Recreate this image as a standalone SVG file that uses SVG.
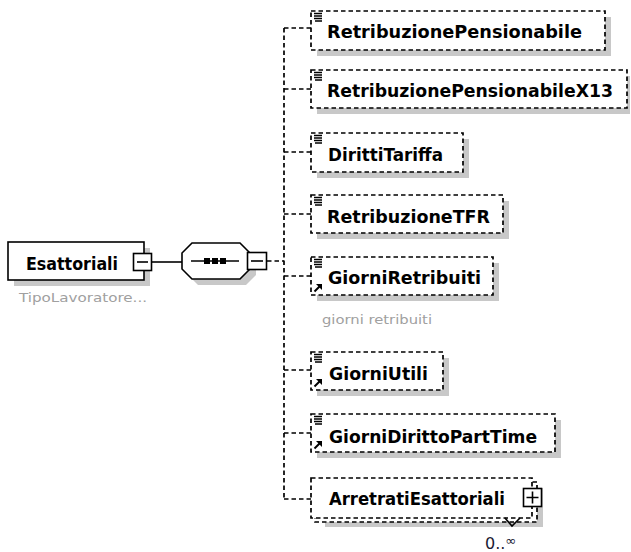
<svg xmlns="http://www.w3.org/2000/svg" width="631" height="552" viewBox="0 0 631 552">
<style>
.shadow{fill:#c8c8c8;stroke:none}
.solid{fill:#fff;stroke:#000;stroke-width:1.6}
.dbox{fill:#fff;stroke:#000;stroke-width:1.7;stroke-dasharray:4.5 3}
.conn{fill:none;stroke:#000;stroke-width:1.7;stroke-dasharray:4.5 3}
.line{fill:none;stroke:#000;stroke-width:1.6}
.lbl{font-family:"DejaVu Sans",Verdana,sans-serif;font-weight:bold;font-size:18px;fill:#000}
.note{font-family:"DejaVu Sans",Verdana,sans-serif;font-size:13px;fill:#a0a0a0}
.occ{font-family:"DejaVu Sans",Verdana,sans-serif;font-size:16px;fill:#1a1a33}
.ico{stroke:#000;stroke-width:1.3;fill:none}
</style>
<defs>
<g id="simple">
<path class="ico" d="M0,0.5h8M0,3h8M0,5.5h8M1,8h7"/>
</g>
<g id="ref">
<path d="M0.5,8.5L5.5,3.5" stroke="#000" stroke-width="2"/>
<path d="M2,1H8V7Z" fill="#000"/>
</g>
</defs>

<g id="connectors">
<path class="line" d="M152,262H182"/>
<path class="conn" d="M267,261H284"/>
<path class="conn" d="M284,28V499"/>
<path class="conn" d="M284,28H311M284,89H311M284,152H311M284,214H311M284,276H311M284,370H311M284,433H311M284,499H311"/>
</g>

<g id="Esattoriali">
<rect class="shadow" x="14" y="248" width="136" height="38"/>
<rect class="solid" x="8" y="242" width="136" height="38"/>
<text class="lbl" x="26" y="270" textLength="92" lengthAdjust="spacingAndGlyphs">Esattoriali</text>
<rect class="solid" x="133.5" y="253.5" width="18" height="17"/>
<path class="line" d="M137,262H148"/>
<text class="note" x="19" y="302" textLength="128" lengthAdjust="spacingAndGlyphs">TipoLavoratore...</text>
</g>

<g id="sequence">
<path class="shadow" d="M198,249H246L256,259V275L246,285H198L188,275V259Z"/>
<path class="solid" d="M192,243H240L250,253V269L240,279H192L182,269V253Z"/>
<path class="line" d="M191,261H239"/>
<rect x="204" y="258" width="6" height="6" fill="#000"/>
<rect x="212" y="258" width="6" height="6" fill="#000"/>
<rect x="220" y="258" width="6" height="6" fill="#000"/>
<rect class="solid" x="247.5" y="252.5" width="19" height="17"/>
<path class="line" d="M251,261H263"/>
</g>

<g id="RetribuzionePensionabile">
<rect class="shadow" x="317" y="17" width="294" height="39"/>
<rect class="dbox" x="311" y="11" width="294" height="39"/>
<use href="#simple" x="314" y="13"/>
<text class="lbl" x="327" y="38" textLength="255" lengthAdjust="spacingAndGlyphs">RetribuzionePensionabile</text>
</g>

<g id="RetribuzionePensionabileX13">
<rect class="shadow" x="317" y="76" width="313" height="38"/>
<rect class="dbox" x="311" y="70" width="316" height="38"/>
<use href="#simple" x="314" y="72"/>
<text class="lbl" x="327" y="97" textLength="286" lengthAdjust="spacingAndGlyphs">RetribuzionePensionabileX13</text>
</g>

<g id="DirittiTariffa">
<rect class="shadow" x="317" y="139" width="152" height="39"/>
<rect class="dbox" x="311" y="133" width="152" height="39"/>
<use href="#simple" x="314" y="135"/>
<text class="lbl" x="328" y="161" textLength="115" lengthAdjust="spacingAndGlyphs">DirittiTariffa</text>
</g>

<g id="RetribuzioneTFR">
<rect class="shadow" x="317" y="201" width="192" height="38"/>
<rect class="dbox" x="311" y="195" width="192" height="38"/>
<use href="#simple" x="314" y="197"/>
<text class="lbl" x="327" y="223" textLength="163" lengthAdjust="spacingAndGlyphs">RetribuzioneTFR</text>
</g>

<g id="GiorniRetribuiti">
<rect class="shadow" x="317" y="263" width="182" height="38"/>
<rect class="dbox" x="311" y="257" width="182" height="38"/>
<use href="#simple" x="314" y="259"/>
<use href="#ref" x="314" y="283"/>
<text class="lbl" x="328" y="284" textLength="153" lengthAdjust="spacingAndGlyphs">GiorniRetribuiti</text>
<text class="note" x="322" y="324" textLength="110" lengthAdjust="spacingAndGlyphs">giorni retribuiti</text>
</g>

<g id="GiorniUtili">
<rect class="shadow" x="317" y="358" width="132" height="38"/>
<rect class="dbox" x="311" y="352" width="132" height="38"/>
<use href="#simple" x="314" y="354"/>
<use href="#ref" x="314" y="378"/>
<text class="lbl" x="329" y="380" textLength="99" lengthAdjust="spacingAndGlyphs">GiorniUtili</text>
</g>

<g id="GiorniDirittoPartTime">
<rect class="shadow" x="317" y="420" width="244" height="38"/>
<rect class="dbox" x="311" y="414" width="244" height="38"/>
<use href="#simple" x="314" y="416"/>
<use href="#ref" x="314" y="440"/>
<text class="lbl" x="329" y="443" textLength="208" lengthAdjust="spacingAndGlyphs">GiorniDirittoPartTime</text>
</g>

<g id="ArretratiEsattoriali">
<rect class="shadow" x="325" y="488" width="218" height="39"/>
<rect class="dbox" x="315" y="482" width="222" height="40"/>
<rect class="dbox" x="311" y="478" width="221" height="40"/>
<text class="lbl" x="329" y="505" textLength="176" lengthAdjust="spacingAndGlyphs">ArretratiEsattoriali</text>
<rect class="solid" x="523.5" y="488.5" width="18" height="18"/>
<path class="line" d="M526.5,497.5H538.5M532.5,491.5V503.5"/>
<path class="line" d="M505,518L512,526L520,518"/>
<text class="occ" x="485" y="549">0..<tspan font-size="13" dy="-4">∞</tspan></text>
</g>
</svg>
